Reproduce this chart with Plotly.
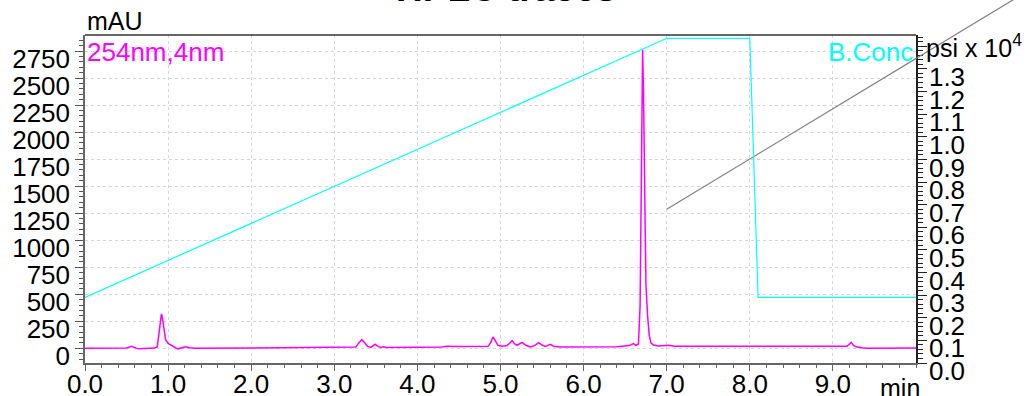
import plotly.graph_objects as go

# ---------------- data ----------------
time_min = [0.00, 0.40, 0.50, 0.56, 0.60, 0.64, 0.70, 0.84, 0.87, 0.89, 0.91, 0.92, 0.93, 0.95,
            0.97, 1.00, 1.03, 1.06, 1.09, 1.12, 1.16, 1.21, 1.26, 1.32, 2.00, 2.60, 3.20, 3.26,
            3.29, 3.33, 3.36, 3.40, 3.44, 3.49, 3.53, 3.56, 3.59, 3.63, 4.00, 4.30, 4.35, 4.50,
            4.85, 4.88, 4.91, 4.94, 4.97, 5.02, 5.08, 5.14, 5.17, 5.20, 5.26, 5.30, 5.36, 5.41,
            5.46, 5.50, 5.54, 5.60, 5.64, 5.72, 6.00, 6.40, 6.55, 6.60, 6.63, 6.66, 6.68, 6.69,
            6.70, 6.71, 6.72, 6.73, 6.74, 6.75, 6.77, 6.79, 6.81, 6.84, 6.90, 7.02, 7.10, 8.00,
            9.00, 9.17, 9.20, 9.22, 9.25, 9.29, 9.35, 9.41, 10.00]
absorbance_mau = [0, 0, 3, 18, 8, -5, -3, 2, 15, 150, 300, 318, 290, 170,
                  80, 45, 30, 20, 5, -5, 2, 15, 5, 0, 2, 5, 8, 12,
                  45, 80, 55, 18, 8, 37, 15, 8, 15, 8, 10, 12, 20, 16,
                  18, 50, 105, 70, 28, 20, 25, 71, 40, 28, 55, 30, 12, 25,
                  52, 30, 18, 37, 18, 12, 12, 15, 25, 43, 28, 40, 400, 1200,
                  2200, 2760, 2400, 1600, 950, 600, 300, 120, 50, 30, 22, 28, 20, 18,
                  18, 20, 40, 55, 25, 12, 4, 0, 2]

bconc_time = [0.0, 7.0, 8.0, 8.1, 10.0]
bconc_pct = [20, 99, 99, 20, 20]

pressure_time = [7.0, 12.0]
pressure_psi_e4 = [0.68, 1.79]

x_tick_vals = [0, 1, 2, 3, 4, 5, 6, 7, 8, 9]
x_tick_text = ["0.0", "1.0", "2.0", "3.0", "4.0", "5.0", "6.0", "7.0", "8.0", "9.0"]
psi_tick_vals = [0.0, 0.1, 0.2, 0.3, 0.4, 0.5, 0.6, 0.7, 0.8, 0.9, 1.0, 1.1, 1.2, 1.3, 1.4]
psi_tick_text = ["0.0", "0.1", "0.2", "0.3", "0.4", "0.5", "0.6", "0.7", "0.8", "0.9",
                 "1.0", "1.1", "1.2", "1.3", ""]

X_RANGE = [0, 10]
Y_MAU_RANGE = [-136, 2898]
Y_PSI_RANGE = [0, 1.45]
Y_CONC_RANGE = [0, 100]

FONT = "Liberation Sans, Arial, sans-serif"
MAGENTA = "#ff00ff"
CYAN = "#00ffff"
GRAY = "#7f7f7f"
GRID = "#d6d6d6"

fig = go.Figure()

fig.add_trace(go.Scatter(x=bconc_time, y=bconc_pct, yaxis="y3", mode="lines",
                         line=dict(color=CYAN, width=1.2), showlegend=False, hoverinfo="skip"))
fig.add_trace(go.Scatter(x=pressure_time, y=pressure_psi_e4, yaxis="y2", mode="lines",
                         line=dict(color=GRAY, width=1.2), showlegend=False, hoverinfo="skip"))
fig.add_trace(go.Scatter(x=time_min, y=absorbance_mau, yaxis="y", mode="lines",
                         line=dict(color=MAGENTA, width=1.5), showlegend=False))

# pressure line continues beyond the plot frame (unclipped), computed from the data
def to_paper(t, v):
    return ((t - X_RANGE[0]) / (X_RANGE[1] - X_RANGE[0]),
            (v - Y_PSI_RANGE[0]) / (Y_PSI_RANGE[1] - Y_PSI_RANGE[0]))

t0, t1 = pressure_time[0], pressure_time[-1]
p0, p1 = pressure_psi_e4[0], pressure_psi_e4[-1]
p_edge = p0 + (p1 - p0) * (X_RANGE[1] - t0) / (t1 - t0)
xa, ya = to_paper(X_RANGE[1], p_edge)
xb, yb = to_paper(t1, p1)
shapes = [
    dict(type="line", xref="paper", yref="paper", x0=xa, y0=ya, x1=xb, y1=yb,
         line=dict(color=GRAY, width=1.2)),
    dict(type="line", xref="paper", yref="paper", x0=0, y0=1, x1=1, y1=1,
         line=dict(color="#333333", width=1.5)),
]

annotations = [
    dict(text="<b>HPLC traces</b>", xref="paper", yref="paper", x=0.5064, y=1,
         xanchor="center", yanchor="bottom", showarrow=False,
         font=dict(size=37, color="#000000", family=FONT), yshift=24),
    dict(text="mAU", xref="paper", yref="paper", x=0, y=1, xanchor="left", yanchor="bottom",
         showarrow=False, font=dict(size=25, color="#000000", family=FONT), xshift=0, yshift=-2),
    dict(text="254nm,4nm", xref="paper", yref="paper", x=0, y=1, xanchor="left", yanchor="top",
         showarrow=False, font=dict(size=26, color=MAGENTA, family=FONT), xshift=0, yshift=0),
    dict(text="B.Conc", xref="paper", yref="paper", x=1, y=1, xanchor="right", yanchor="top",
         showarrow=False, font=dict(size=26, color=CYAN, family=FONT), xshift=-1, yshift=0),
    dict(text="psi x 10<sup>4</sup>", xref="paper", yref="paper", x=1, y=1, xanchor="left",
         yanchor="top", showarrow=False, font=dict(size=25, color="#000000", family=FONT),
         xshift=8, yshift=7),
    dict(text="min", xref="paper", yref="paper", x=1, y=0, xanchor="center", yanchor="top",
         showarrow=False, font=dict(size=25, color="#000000", family=FONT), xshift=-16, yshift=-9),
]

fig.update_layout(
    width=1030, height=396,
    margin=dict(l=85, r=114, t=35, b=33, pad=0, autoexpand=False),
    paper_bgcolor="white", plot_bgcolor="white",
    font=dict(family=FONT, size=26, color="#000000"),
    xaxis=dict(range=X_RANGE, tickmode="array", tickvals=x_tick_vals, ticktext=x_tick_text,
               ticks="outside", ticklen=6, tickcolor="#666666", tickwidth=1,
               minor=dict(tickmode="linear", tick0=0, dtick=0.2, ticks="outside", ticklen=3,
                          tickcolor="#666666", showgrid=False),
               showgrid=True, gridcolor=GRID, griddash="dot", gridwidth=1,
               showline=True, linecolor="#666666", linewidth=1.5, zeroline=False,
               ticklabelstandoff=-9, tickfont=dict(size=26)),
    yaxis=dict(range=Y_MAU_RANGE, tickmode="linear", tick0=0, dtick=250,
               ticks="outside", ticklen=8, tickcolor="#555555",
               minor=dict(tickmode="linear", tick0=0, dtick=50, ticks="outside", ticklen=4,
                          tickcolor="#555555", showgrid=False),
               showgrid=True, gridcolor=GRID, griddash="dot", gridwidth=1,
               showline=True, linecolor="#666666", linewidth=1.5, zeroline=False,
               ticklabelshift=8, tickfont=dict(size=26)),
    yaxis2=dict(range=Y_PSI_RANGE, overlaying="y", side="right", anchor="x",
                tickmode="array", tickvals=psi_tick_vals, ticktext=psi_tick_text,
                ticks="outside", ticklen=9, tickcolor="#222222",
                minor=dict(tickmode="linear", tick0=0, dtick=0.02, ticks="outside", ticklen=5,
                           tickcolor="#222222", showgrid=False),
                showgrid=False, showline=True, linecolor="#222222", linewidth=1.5,
                zeroline=False, ticklabelshift=8, ticklabelstandoff=-3, tickfont=dict(size=26)),
    yaxis3=dict(range=Y_CONC_RANGE, overlaying="y", visible=False),
    shapes=shapes,
    annotations=annotations,
)

fig.write_html("out.html")
